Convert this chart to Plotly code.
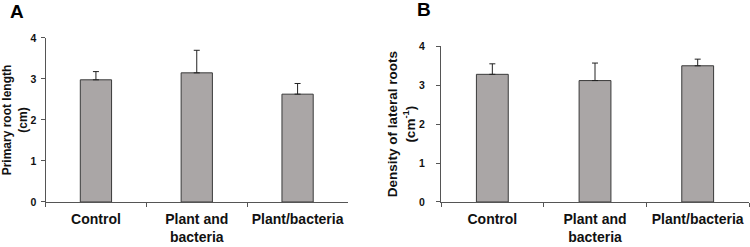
import plotly.graph_objects as go

categories = ["Control", "Plant and<br>bacteria", "Plant/bacteria"]
root_length = [2.98, 3.15, 2.63]
root_length_err = [0.20, 0.55, 0.26]
lateral_density = [3.28, 3.12, 3.50]
lateral_density_err = [0.27, 0.45, 0.17]

bar_color = "#aaa6a6"
edge_color = "#3a3a3a"
axis_color = "#555555"
FONT = "Liberation Sans, Arial, sans-serif"

fig = go.Figure()


def add_panel(values, errs, xa, ya):
    fig.add_trace(go.Bar(
        x=categories, y=values, xaxis=xa, yaxis=ya,
        width=0.31,
        marker=dict(color=bar_color, line=dict(color=edge_color, width=1)),
        error_y=dict(type="data", array=errs, arrayminus=[0] * len(errs),
                     symmetric=False, color="#222222", thickness=1, width=3),
        showlegend=False,
    ))


add_panel(root_length, root_length_err, "x", "y")
add_panel(lateral_density, lateral_density_err, "x2", "y2")

xcommon = dict(
    type="category", range=[-0.5, 2.5], showline=True, linecolor=axis_color, linewidth=1,
    ticks="outside", tickson="boundaries", ticklen=4, tickcolor=axis_color,
    tickfont=dict(family=FONT, size=14, color="#111111", weight="bold"),
    ticklabelstandoff=4,
    showgrid=False, zeroline=False, automargin=False,
)
ycommon = dict(
    range=[0, 4], dtick=1, showline=True, linecolor=axis_color, linewidth=1,
    ticks="outside", ticklen=4, tickcolor=axis_color,
    tickfont=dict(family=FONT, size=10.5, color="#111111", weight="bold"),
    showgrid=False, zeroline=False, automargin=False,
)

fig.update_layout(
    width=750, height=247,
    margin=dict(l=0, r=0, t=0, b=0),
    paper_bgcolor="white", plot_bgcolor="white",
    xaxis=dict(xcommon, domain=[0.0607, 0.464], anchor="y"),
    xaxis2=dict(xcommon, domain=[0.588, 0.9987], anchor="y2"),
    yaxis=dict(ycommon, domain=[0.1822, 0.8462], anchor="x", ticklabelstandoff=2,
               title=dict(text="Primary root length<br>(cm)", standoff=4,
                          font=dict(family=FONT, size=12, color="#111111", weight="bold"))),
    yaxis2=dict(ycommon, domain=[0.1822, 0.8125], anchor="x2", ticklabelstandoff=9,
                title=dict(text="Density of lateral roots<br>(cm<sup>-1</sup>)", standoff=0,
                           font=dict(family=FONT, size=13.5, color="#111111", weight="bold"))),
    annotations=[
        dict(text="A", x=0.022, y=0.953, xref="paper", yref="paper", showarrow=False,
             xanchor="center", yanchor="middle",
             font=dict(family=FONT, size=19, color="black", weight="bold")),
        dict(text="B", x=0.565, y=0.96, xref="paper", yref="paper", showarrow=False,
             xanchor="center", yanchor="middle",
             font=dict(family=FONT, size=19, color="black", weight="bold")),
    ],
)

fig.write_html("out.html", config={"displayModeBar": False},
               post_script="document.body.style.margin='0';")
